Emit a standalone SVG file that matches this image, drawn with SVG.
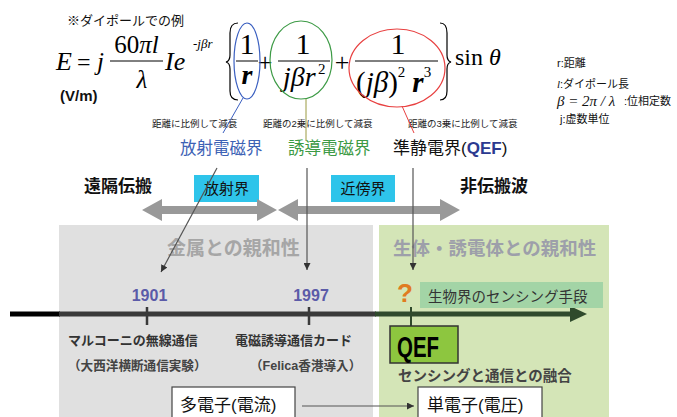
<svg xmlns="http://www.w3.org/2000/svg" width="677" height="417" viewBox="0 0 677 417">
<defs>
<marker id="ah" viewBox="0 0 10 10" refX="10" refY="5" markerWidth="7" markerHeight="7" orient="auto" markerUnits="userSpaceOnUse"><path d="M0,0 L10,5 L0,10 z" fill="#333"/></marker>
<style>
.jp{font-family:"Liberation Sans","Noto Sans CJK JP",sans-serif;}
.m{font-family:"Liberation Serif","DejaVu Serif",serif;}
.i{font-style:italic;}
.fl{stroke:#000;stroke-width:1;}
.brace{fill:none;stroke:#000;stroke-width:1.2;}
.conn{stroke:#555;stroke-width:1.2;fill:none;}
.cyan{fill:#2ec4ea;}
.dbl{fill:#999;}
.box{fill:#fff;stroke:#444;stroke-width:1.2;}
</style>
</defs>
<rect width="677" height="417" fill="#fff"/>

<!-- background regions -->
<g id="region-metal"><rect x="59" y="225" width="314" height="192" fill="#e0e0e0"/>
<text class="jp" x="167" y="255" font-size="19" font-weight="bold" fill="#a6a6a6">金属との親和性</text></g>
<g id="region-bio"><rect x="379" y="225" width="230" height="192" fill="#d4e5b7"/>
<text class="jp" x="393" y="255" font-size="18.5" font-weight="bold" fill="#9d9faa">生体・誘電体との親和性</text></g>

<!-- formula -->
<g id="formula">
<text class="jp" x="67" y="25" font-size="13" fill="#111">※ダイポールでの例</text>
<text class="m i" x="56" y="70" font-size="26">E</text>
<text class="m" x="77" y="70" font-size="24">=</text>
<text class="m i" x="97" y="70" font-size="25">j</text>
<text class="m" x="136.5" y="53" font-size="25" text-anchor="middle">60<tspan class="i">πl</tspan></text>
<line class="fl" x1="110" y1="61" x2="163" y2="61"/>
<text class="m i" x="142" y="88" font-size="25" text-anchor="middle">λ</text>
<text class="m i" x="165" y="70" font-size="26">Ie</text>
<text class="m i" x="193" y="48" font-size="13">-jβr</text>
<path class="brace" d="M238,23 Q230,23 230,33 L230,55 Q230,61 226,62 Q230,63 230,69 L230,91 Q230,100 238,100"/>
<text class="m" x="247" y="54" font-size="30" text-anchor="middle">1</text>
<line class="fl" x1="236" y1="61" x2="258" y2="61"/>
<text class="m i" x="247" y="84" font-size="28" text-anchor="middle" font-weight="bold">r</text>
<text class="m" x="265" y="71" font-size="26" text-anchor="middle">+</text>
<text class="m" x="303" y="54" font-size="30" text-anchor="middle">1</text>
<line class="fl" x1="278" y1="61" x2="330" y2="61"/>
<text class="m i" x="283" y="86" font-size="28">jβr</text>
<text class="m" x="318" y="74" font-size="15">2</text>
<text class="m" x="342" y="71" font-size="26" text-anchor="middle">+</text>
<text class="m" x="398" y="54" font-size="30" text-anchor="middle">1</text>
<line class="fl" x1="355" y1="61" x2="438" y2="61"/>
<text class="m" x="356" y="92" font-size="29">(<tspan class="i">jβ</tspan>)<tspan font-size="15" dy="-15">2</tspan><tspan class="i" font-weight="bold" dx="7" dy="15">r</tspan><tspan font-size="15" dy="-15">3</tspan></text>
<path class="brace" d="M440,23 Q447,23 447,33 L447,55 Q447,61 451,62 Q447,63 447,69 L447,91 Q447,100 440,100"/>
<text class="m" x="455" y="65" font-size="24">sin <tspan class="i">θ</tspan></text>
<text class="jp" x="60" y="101" font-size="15" font-weight="bold" fill="#111">(V/m)</text>
<ellipse cx="247" cy="61" rx="13" ry="38" fill="none" stroke="#3a5fc0" stroke-width="1.2"/>
<ellipse cx="301" cy="60" rx="31" ry="39" fill="none" stroke="#3c9a45" stroke-width="1.2"/>
<ellipse cx="397" cy="68" rx="48" ry="39" fill="none" stroke="#e84040" stroke-width="1.2"/>
</g>

<!-- legend -->
<g id="legend" class="jp" font-size="11" fill="#111">
<text x="557" y="67">r:距離</text>
<text x="557" y="88"><tspan class="m i">l</tspan>:ダイポール長</text>
<text class="m i" x="557" y="106" font-size="15">β = 2π / λ</text>
<text x="624" y="105">:位相定数</text>
<text x="560" y="123">j:虚数単位</text>
</g>

<!-- decay labels and fields -->
<g id="labels" class="jp">
<text x="152" y="127" font-size="9.5" fill="#222">距離に比例して減衰</text>
<text x="263" y="127" font-size="9.5" fill="#222">距離の2乗に比例して減衰</text>
<text x="408" y="127" font-size="9.5" fill="#222">距離の3乗に比例して減衰</text>
</g>
<g id="field-radiation"><text class="jp" x="180" y="154" font-size="16.5" fill="#3d62b5">放射電磁界</text></g>
<g id="field-induction"><text class="jp" x="288" y="154" font-size="16.5" fill="#3c9a45">誘導電磁界</text></g>
<g id="field-qef"><text class="jp" x="393" y="154" font-size="17" fill="#111">準静電界(<tspan font-weight="bold" fill="#2b3990">QEF</tspan>)</text></g>

<g id="far"><text class="jp" x="84" y="192" font-size="17" font-weight="bold" fill="#111">遠隔伝搬</text></g>
<g id="nonprop"><text class="jp" x="460" y="192" font-size="17" font-weight="bold" fill="#111">非伝搬波</text></g>
<g id="radiation-field"><rect class="cyan" x="194" y="175" width="65" height="27"/><text class="jp" x="226.5" y="194" font-size="15" text-anchor="middle" fill="#111">放射界</text></g>
<g id="near-field"><rect class="cyan" x="331" y="175" width="64" height="27"/><text class="jp" x="363" y="194" font-size="15" text-anchor="middle" fill="#111">近傍界</text></g>

<g id="range-arrows">
<polygon class="dbl" points="142,210 162,199 162,206 257,206 257,199 277,210 257,221 257,214 162,214 162,221"/>
<polygon class="dbl" points="278,210 298,199 298,206 440,206 440,199 460,210 440,221 440,214 298,214 298,221"/>
</g>

<!-- timeline -->
<g id="timeline">
<line x1="10" y1="314" x2="60" y2="314" stroke="#000" stroke-width="5"/>
<line x1="59" y1="314" x2="376" y2="314" stroke="#3a3a3a" stroke-width="5"/>
<line x1="375" y1="314" x2="572" y2="314" stroke="#2f4a2c" stroke-width="5"/>
<polygon points="570,306 587,314 570,322" fill="#2f4a2c"/>
<line x1="147" y1="307" x2="147" y2="325" stroke="#3a3a3a" stroke-width="2.5"/>
<line x1="309" y1="307" x2="309" y2="325" stroke="#3a3a3a" stroke-width="2.5"/>
<line x1="411" y1="307" x2="411" y2="327" stroke="#2f4a2c" stroke-width="2"/>
</g>

<g id="y1901" class="jp">
<text x="149.5" y="301" font-size="16" font-weight="bold" fill="#5b5ba8" text-anchor="middle">1901</text>
<text x="68" y="345" font-size="13" font-weight="bold" fill="#333">マルコーニの無線通信</text>
<text x="68" y="370" font-size="12.6" font-weight="bold" fill="#444">（大西洋横断通信実験）</text>
</g>
<g id="y1997" class="jp">
<text x="311" y="301" font-size="16" font-weight="bold" fill="#5b5ba8" text-anchor="middle">1997</text>
<text x="235" y="345" font-size="13" font-weight="bold" fill="#333">電磁誘導通信カード</text>
<text x="250" y="370" font-size="12.6" font-weight="bold" fill="#444">（Felica香港導入）</text>
</g>
<g id="question"><text class="jp" x="397" y="302" font-size="26" font-weight="bold" fill="#e07b20">?</text></g>
<g id="bio-sensing"><rect x="420" y="282" width="183" height="26" fill="#a3d4a6"/><text class="jp" x="428" y="302" font-size="14.5" fill="#333">生物界のセンシング手段</text></g>
<g id="qef"><rect x="390" y="326" width="68" height="37" fill="#8dc63f" stroke="#333" stroke-width="1.5"/><text class="jp" x="397" y="357" font-size="29" font-weight="bold" fill="#000" textLength="42" lengthAdjust="spacingAndGlyphs">QEF</text></g>
<g id="fusion"><text class="jp" x="398" y="381" font-size="14.5" font-weight="bold" fill="#444">センシングと通信との融合</text></g>
<g id="multi-electron"><rect class="box" x="172" y="387" width="123" height="34"/><text class="jp" x="180" y="411" font-size="17" fill="#111">多電子(電流)</text></g>
<g id="single-electron"><rect class="box" x="418" y="387" width="124" height="34"/><text class="jp" x="427" y="411" font-size="17" fill="#111">単電子(電圧)</text></g>

<!-- connectors -->
<g id="connectors">
<line x1="243" y1="98" x2="223" y2="133" stroke="#3a5fc0" stroke-width="1"/>
<line x1="306" y1="99" x2="306" y2="141" stroke="#9a9a40" stroke-width="1"/>
<line x1="402" y1="106" x2="414" y2="133" stroke="#e84040" stroke-width="1"/>
<line class="conn" x1="217" y1="168" x2="161" y2="272" marker-end="url(#ah)"/>
<line class="conn" x1="307" y1="168" x2="307" y2="270" marker-end="url(#ah)"/>
<line class="conn" x1="413" y1="168" x2="413" y2="270" marker-end="url(#ah)"/>
<line class="conn" x1="302" y1="406" x2="414" y2="406" stroke="#333" marker-end="url(#ah)"/>
</g>
</svg>
